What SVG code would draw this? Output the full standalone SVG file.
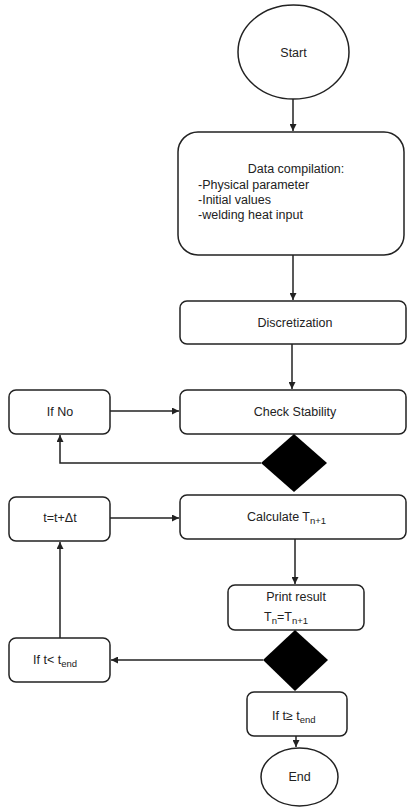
<svg xmlns="http://www.w3.org/2000/svg" width="407" height="807" viewBox="0 0 407 807">
<defs>
<style>
.n{fill:#fff;stroke:#222;stroke-width:1.5}
.d{fill:#000;stroke:none}
.c{fill:none;stroke:#222;stroke-width:1.5}
text{font-family:"Liberation Sans",Arial,sans-serif;font-size:12.5px;fill:#222}
.m{text-anchor:middle}
.s{font-size:9.5px}
</style>
<marker id="ah" viewBox="0 0 10 10" refX="10" refY="5" markerWidth="7" markerHeight="7" markerUnits="userSpaceOnUse" orient="auto">
<path d="M0,0 L10,5 L0,10 z" fill="#222"/>
</marker>
</defs>
<rect width="407" height="807" fill="#fff"/>
<g id="start"><ellipse class="n" cx="293.5" cy="52" rx="55.5" ry="47"/><text class="m" x="293.5" y="57" font-size="13">Start</text></g>
<g id="data"><rect class="n" x="178" y="132" width="226" height="123" rx="20"/>
<text class="m" x="296" y="173">Data compilation:</text>
<text x="198" y="189">-Physical parameter</text>
<text x="198" y="204">-Initial values</text>
<text x="198" y="219">-welding heat input</text></g>
<g id="discretization"><rect class="n" x="180" y="301" width="226" height="43" rx="7"/><text class="m" x="295" y="327">Discretization</text></g>
<g id="check"><rect class="n" x="180" y="390" width="226" height="44" rx="7"/><text class="m" x="295" y="416">Check Stability</text></g>
<g id="ifno"><rect class="n" x="9" y="390" width="101" height="44" rx="7"/><text class="m" x="60" y="416">If No</text></g>
<g id="dec1"><polygon class="d" points="294,434 327,463 294,492 261,463"/></g>
<g id="calc"><rect class="n" x="180" y="495" width="226" height="44" rx="7"/><text x="247" y="521">Calculate T<tspan class="s" dy="3">n+1</tspan></text></g>
<g id="tinc"><rect class="n" x="9" y="497" width="101" height="44" rx="7"/><text class="m" x="60" y="522">t=t+Δt</text></g>
<g id="print"><rect class="n" x="228" y="585" width="136" height="45" rx="7"/><text class="m" x="296" y="601">Print result</text><text x="264" y="621">T<tspan class="s" dy="3">n</tspan><tspan dy="-3">=T</tspan><tspan class="s" dy="3">n+1</tspan></text></g>
<g id="dec2"><polygon class="d" points="295,630 328,660 295,691 263,660"/></g>
<g id="iflt"><rect class="n" x="9" y="638" width="101" height="44" rx="7"/><text x="33" y="664">If t&lt; t<tspan class="s" dy="3">end</tspan></text></g>
<g id="ifge"><rect class="n" x="247" y="692" width="100" height="44" rx="7"/><text x="272" y="720">If t≥ t<tspan class="s" dy="3">end</tspan></text></g>
<g id="end"><ellipse class="n" cx="299.5" cy="777" rx="38.5" ry="29"/><text class="m" x="299.5" y="781">End</text></g>
<g id="connectors">
<path class="c" d="M293,99 V131" marker-end="url(#ah)"/>
<path class="c" d="M293,255 V300" marker-end="url(#ah)"/>
<path class="c" d="M292,344 V389" marker-end="url(#ah)"/>
<path class="c" d="M110,411 H179" marker-end="url(#ah)"/>
<path class="c" d="M261,463 H60 V435" marker-end="url(#ah)"/>
<path class="c" d="M110,518 H179" marker-end="url(#ah)"/>
<path class="c" d="M295,539 V584" marker-end="url(#ah)"/>
<path class="c" d="M263,660 H111" marker-end="url(#ah)"/>
<path class="c" d="M60,638 V542" marker-end="url(#ah)"/>
<path class="c" d="M296,736 V747" marker-end="url(#ah)"/>
</g>
</svg>
